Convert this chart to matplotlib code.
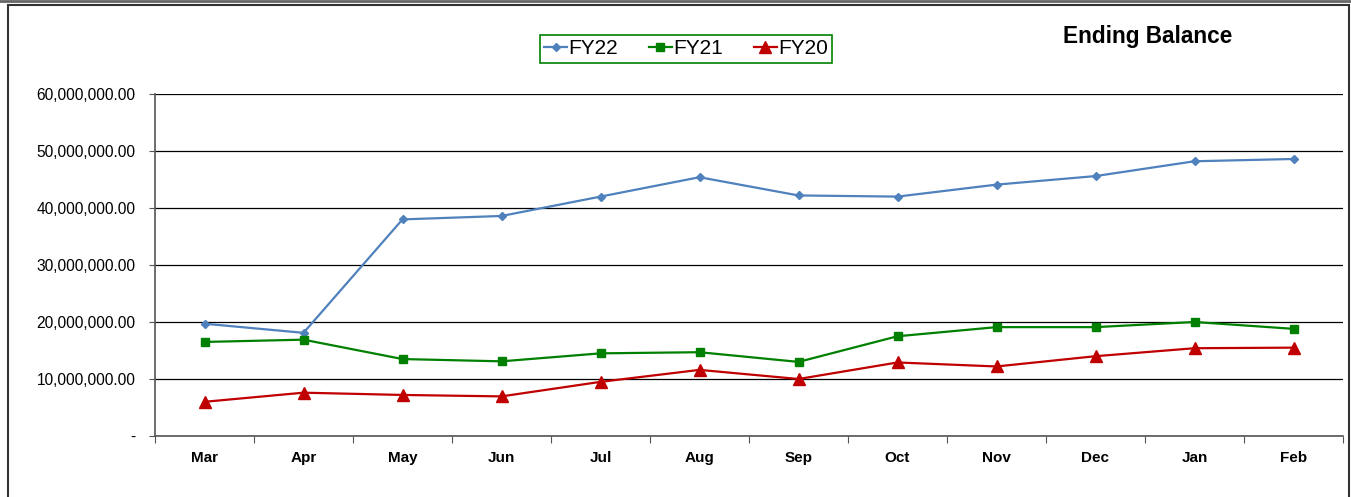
import matplotlib.pyplot as plt
import matplotlib.patches as mpatches
from matplotlib.ticker import FuncFormatter
import numpy as np

plt.rcParams['font.family'] = ['Liberation Sans', 'DejaVu Sans']

# dane
miesiace = ['Mar', 'Apr', 'May', 'Jun', 'Jul', 'Aug', 'Sep', 'Oct', 'Nov', 'Dec', 'Jan', 'Feb']
fy22 = [19.7e6, 18.1e6, 38.0e6, 38.6e6, 42.0e6, 45.4e6, 42.2e6, 42.0e6, 44.1e6, 45.6e6, 48.2e6, 48.6e6]
fy21 = [16.5e6, 16.9e6, 13.5e6, 13.1e6, 14.5e6, 14.7e6, 13.0e6, 17.5e6, 19.1e6, 19.1e6, 20.0e6, 18.8e6]
fy20 = [6.0e6, 7.6e6, 7.2e6, 6.95e6, 9.5e6, 11.6e6, 10.0e6, 12.9e6, 12.2e6, 14.0e6, 15.4e6, 15.5e6]

fig = plt.figure(figsize=(13.51, 4.97), dpi=100)
ax = fig.add_axes([155/1351, 1 - 436/497, (1343 - 155)/1351, (436 - 94)/497])

x = np.arange(len(miesiace))
ax.plot(x, fy22, color='#4F81BD', marker='D', markersize=4, linewidth=1.6, label='FY22')
ax.plot(x, fy21, color='#008000', marker='s', markersize=6, linewidth=1.6, label='FY21')
ax.plot(x, fy20, color='#C00000', marker='^', markersize=9, linewidth=1.6, label='FY20')

ax.set_xlim(-0.5, len(miesiace) - 0.5)
ax.set_ylim(0, 60e6)
ax.set_yticks(np.arange(0, 60e6 + 1, 10e6))
ax.yaxis.set_major_formatter(FuncFormatter(lambda v, p: '-' if v == 0 else f'{v:,.2f}'))
ax.grid(axis='y', color='black', linewidth=0.9)
ax.set_axisbelow(True)

# etykiety miesiecy w srodku, kreski na granicach
ax.set_xticks(np.arange(-0.5, len(miesiace)), minor=False)
ax.set_xticklabels([])
ax.set_xticks(x, minor=True)
ax.set_xticklabels(miesiace, minor=True, fontweight='bold', fontsize=11)
ax.tick_params(axis='x', which='minor', length=0, pad=11)
ax.tick_params(axis='x', which='major', length=5, color='#555555')
ax.tick_params(axis='y', length=4, color='#555555', pad=10, labelsize=11.2)

for s in ['top', 'right']:
    ax.spines[s].set_visible(False)
for s in ['left', 'bottom']:
    ax.spines[s].set_color('#555555')
    ax.spines[s].set_linewidth(1.2)

leg = fig.legend(loc='center', bbox_to_anchor=(686/1351, 1 - 49/497), ncol=3,
                 fontsize=15, frameon=True, fancybox=False, framealpha=1,
                 edgecolor='#008000', handlelength=1.1, handletextpad=0.05,
                 columnspacing=1.5, borderpad=0.2, borderaxespad=0)
leg.get_frame().set_linewidth(1.2)

fig.text(1148/1351, 1 - 37/497, 'Ending Balance', ha='center', va='center',
         fontsize=16.3, fontweight='bold')

# ramka wokol wykresu
fig.patches.append(mpatches.Rectangle((8/1351, -0.01), (1349 - 8)/1351, (497 - 5)/497 + 0.01,
                                      transform=fig.transFigure, fill=False,
                                      edgecolor='#333333', linewidth=1.5))
fig.lines.append(plt.Line2D([0, 1], [1 - 1/497, 1 - 1/497], transform=fig.transFigure,
                            color='#666666', linewidth=2))

fig.savefig('out.png', dpi=100)
